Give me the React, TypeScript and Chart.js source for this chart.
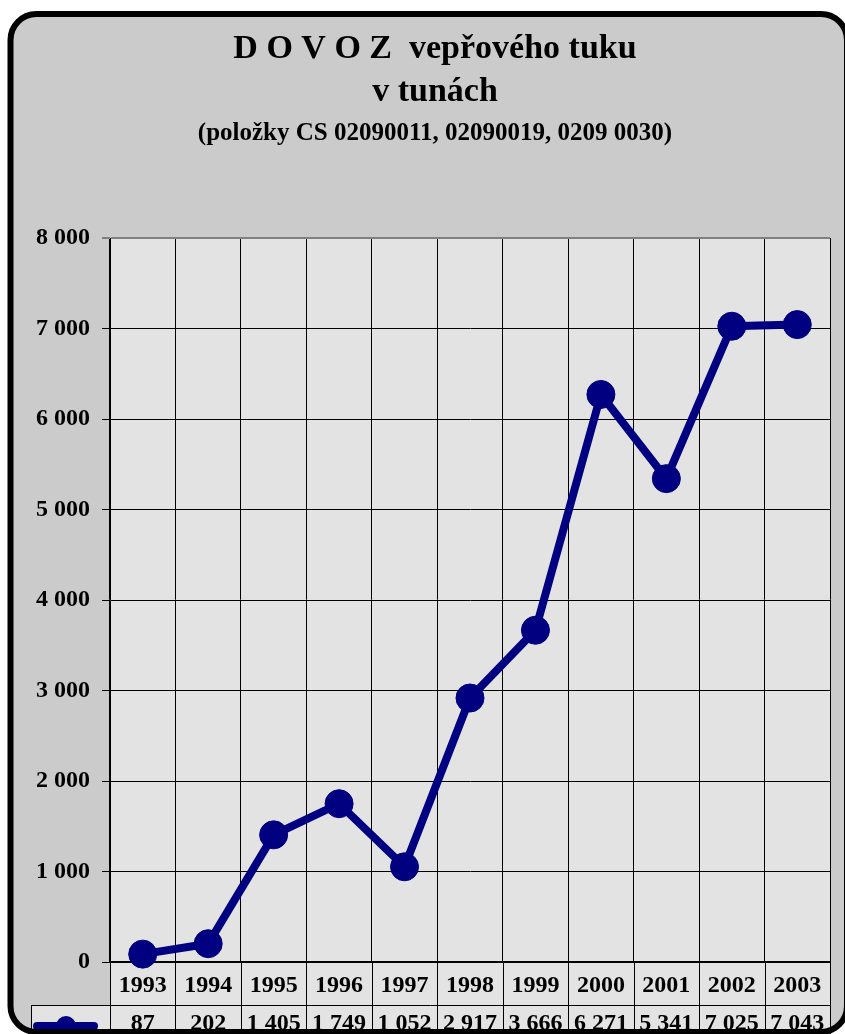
import { useEffect, useRef } from "react";
import { Chart, registerables } from "chart.js";

Chart.register(...registerables);

const years = ["1993", "1994", "1995", "1996", "1997", "1998", "1999", "2000", "2001", "2002", "2003"];
const imports = [87, 202, 1405, 1749, 1052, 2917, 3666, 6271, 5341, 7025, 7043];
const yMin = 0;
const yMax = 8000;
const yStep = 1000;
const titleLines = ["D O V O Z  vepřového tuku", "v tunách"];
const subtitleText = "(položky CS 02090011, 02090019, 0209 0030)";

const FONT = "'Liberation Serif', 'Times New Roman', serif";
const NAVY = "#000080";
const W = 845;
const H = 1034;

const fmt = (n: number) => String(n).replace(/\B(?=(\d{3})+(?!\d))/g, " ");

const decorPlugin = {
  id: "decor",
  beforeDraw(chart: any) {
    const { ctx, width, height, chartArea } = chart;
    ctx.save();
    ctx.fillStyle = "#ffffff";
    ctx.fillRect(0, 0, width, height);
    const x0 = 10.5, y0 = 14, x1 = 847, y1 = 1032, r = 26;
    ctx.beginPath();
    ctx.roundRect(x0, y0, x1 - x0, y1 - y0, r);
    ctx.fillStyle = "#cbcbcb";
    ctx.fill();
    ctx.fillStyle = "#e3e3e3";
    ctx.fillRect(chartArea.left, chartArea.top, chartArea.right - chartArea.left, height - chartArea.top);
    ctx.fillRect(31, 1005, chartArea.left - 31, height - 1005);
    ctx.restore();
  },
  afterDraw(chart: any) {
    const { ctx, chartArea, height } = chart;
    const xs = chart.scales.x;
    const n = years.length;
    const cw = (chartArea.right - chartArea.left) / n;
    const rowY = 1005;
    ctx.save();
    ctx.strokeStyle = "#000";
    ctx.lineWidth = 1;
    for (let i = 0; i <= n; i++) {
      const x = Math.round(chartArea.left + i * cw) + 0.5;
      ctx.beginPath();
      ctx.moveTo(x, chartArea.bottom);
      ctx.lineTo(x, height);
      ctx.stroke();
    }
    ctx.beginPath();
    ctx.moveTo(31, rowY + 0.5);
    ctx.lineTo(chartArea.right, rowY + 0.5);
    ctx.stroke();
    ctx.beginPath();
    ctx.moveTo(31.5, rowY);
    ctx.lineTo(31.5, height);
    ctx.stroke();
    ctx.fillStyle = "#000";
    ctx.font = `bold 24px ${FONT}`;
    ctx.textAlign = "center";
    ctx.textBaseline = "alphabetic";
    imports.forEach((v, i) => {
      ctx.fillText(fmt(v), xs.getPixelForValue(i), 1030);
    });
    ctx.strokeStyle = NAVY;
    ctx.lineWidth = 8;
    ctx.lineCap = "round";
    ctx.beginPath();
    ctx.moveTo(37, 1026);
    ctx.lineTo(94, 1026);
    ctx.stroke();
    ctx.fillStyle = NAVY;
    ctx.beginPath();
    ctx.arc(66, 1026, 10, 0, Math.PI * 2);
    ctx.fill();
    ctx.strokeStyle = "#000";
    ctx.lineWidth = 6;
    ctx.lineCap = "butt";
    ctx.beginPath();
    ctx.roundRect(10.5, 14, 847 - 10.5, 1032 - 14, 26);
    ctx.stroke();
    ctx.restore();
  },
};

export default function App() {
  const ref = useRef<HTMLCanvasElement | null>(null);

  useEffect(() => {
    if (!ref.current) return;
    const chart = new Chart(ref.current, {
      type: "line",
      data: {
        labels: years,
        datasets: [
          {
            label: "Dovoz",
            data: imports,
            borderColor: NAVY,
            backgroundColor: NAVY,
            borderWidth: 8,
            pointRadius: 14,
            pointBorderWidth: 1,
            pointBackgroundColor: NAVY,
            pointBorderColor: NAVY,
            tension: 0,
            clip: false as any,
          },
        ],
      },
      options: {
        animation: false,
        responsive: false,
        devicePixelRatio: 1,
        events: [],
        layout: { padding: { left: 36, right: 11, top: 0, bottom: 0 } },
        plugins: {
          legend: { display: false },
          tooltip: { enabled: false },
          title: {
            display: true,
            text: titleLines,
            color: "#000",
            font: { family: FONT, size: 34, weight: "bold", lineHeight: 43 / 34 },
            padding: { top: 27.5, bottom: 0 },
          },
          subtitle: {
            display: true,
            text: subtitleText,
            color: "#000",
            font: { family: FONT, size: 25, weight: "bold", lineHeight: 1.2 },
            padding: { top: 5, bottom: 89.5 },
          },
        },
        scales: {
          x: {
            type: "category",
            offset: true,
            afterFit(scale: any) {
              scale.height = 72;
            },
            grid: {
              offset: true,
              drawTicks: false,
              color: (c: any) => (c.index === years.length ? "#808080" : "#000"),
              lineWidth: 1,
            },
            border: { display: true, color: "#000", width: 2 },
            ticks: {
              color: "#000",
              font: { family: FONT, size: 24, weight: "bold" },
              padding: 9,
              maxRotation: 0,
              autoSkip: false,
            },
          },
          y: {
            min: yMin,
            max: yMax,
            afterFit(scale: any) {
              scale.width = 74;
            },
            grid: {
              color: (c: any) => (c.tick && c.tick.value === yMax ? "#808080" : "#000"),
              lineWidth: (c: any) => (c.tick && c.tick.value === yMax ? 2 : 1),
              tickLength: 8,
              drawTicks: true,
            },
            border: { display: true, color: "#000", width: 1 },
            ticks: {
              stepSize: yStep,
              color: "#000",
              font: { family: FONT, size: 24, weight: "bold" },
              padding: 12,
              callback: (v: any) => fmt(Number(v)),
            },
          },
        },
      },
      plugins: [decorPlugin],
    });
    return () => chart.destroy();
  }, []);

  return (
    <div style={{ position: "absolute", left: 0, top: 0, width: W, height: H }}>
      <canvas ref={ref} width={W} height={H} style={{ display: "block", width: W, height: H }} />
    </div>
  );
}
